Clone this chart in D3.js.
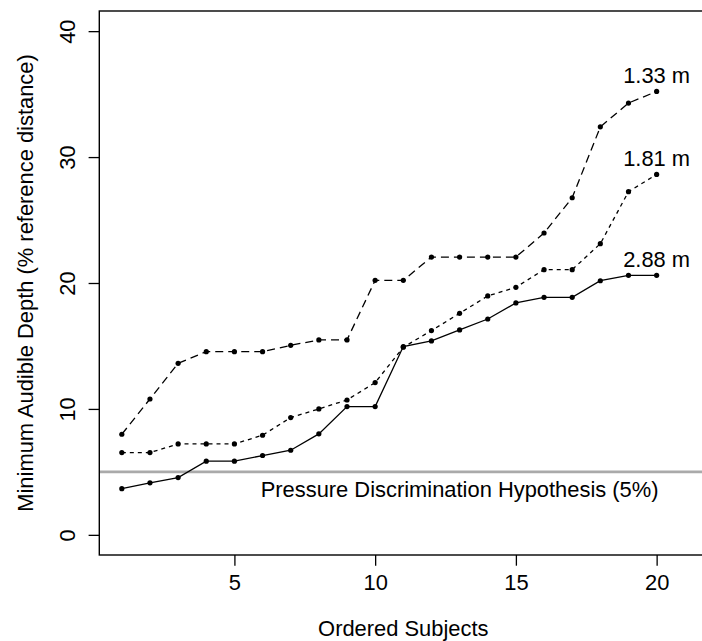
<!DOCTYPE html>
<html>
<head>
<meta charset="utf-8">
<script src="https://cdn.jsdelivr.net/npm/d3@7"></script>
<style>
  html, body { margin: 0; padding: 0; background: #fff; }
  svg { display: block; }
  text { font-family: "Liberation Sans", Arial, Helvetica, sans-serif; fill: #000; }
</style>
</head>
<body>
<svg id="chart" width="702" height="641"></svg>
<script>
// ---- data ----
const subjects = d3.range(1, 21);
const depth133 = [7.99, 10.79, 13.62, 14.55, 14.55, 14.55, 15.05, 15.48, 15.48, 20.21,
                  20.21, 22.06, 22.06, 22.06, 22.06, 23.97, 26.77, 32.4, 34.29, 35.21];
const depth181 = [6.53, 6.53, 7.22, 7.22, 7.22, 7.91, 9.31, 10.0, 10.71, 12.09,
                  14.9, 16.22, 17.59, 18.97, 19.66, 21.06, 21.06, 23.12, 27.25, 28.62];
const depth288 = [3.67, 4.13, 4.55, 5.85, 5.85, 6.30, 6.72, 8.02, 10.19, 10.19,
                  14.95, 15.40, 16.27, 17.14, 18.42, 18.86, 18.86, 20.18, 20.61, 20.61];
const seriesLabels = ["1.33 m", "1.81 m", "2.88 m"];
const xTicks = [5, 10, 15, 20];
const yTicks = [0, 10, 20, 30, 40];
const hypothesisValue = 5;
const hypothesisLabel = "Pressure Discrimination Hypothesis (5%)";
const xTitle = "Ordered Subjects";
const yTitle = "Minimum Audible Depth (% reference distance)";

// ---- layout ----
const svg = d3.select("#chart");
const FS = 21.9;
const x = d3.scaleLinear().domain([0.2, 21.8]).range([99.3, 707.3]);
const y = d3.scaleLinear().domain([-1.6, 41.6]).range([555, 11]);

// hypothesis line
svg.append("line")
  .attr("x1", x.range()[0]).attr("x2", x.range()[1])
  .attr("y1", y(hypothesisValue)).attr("y2", y(hypothesisValue))
  .attr("stroke", "#aaaaaa").attr("stroke-width", 2.6);

svg.append("text")
  .attr("x", x(13)).attr("y", y(3.6) + FS * 0.36)
  .attr("text-anchor", "middle").attr("font-size", FS)
  .text(hypothesisLabel);

// series
const series = [
  { vals: depth133, dash: "8,5", label: seriesLabels[0] },
  { vals: depth181, dash: "4,4", label: seriesLabels[1] },
  { vals: depth288, dash: null, label: seriesLabels[2] }
];
const line = d3.line().x((d, i) => x(subjects[i])).y(d => y(d));

series.forEach(s => {
  const p = svg.append("path")
    .attr("d", line(s.vals))
    .attr("fill", "none").attr("stroke", "#000").attr("stroke-width", 1.3);
  if (s.dash) p.attr("stroke-dasharray", s.dash);
  svg.append("g").selectAll("circle").data(s.vals).join("circle")
    .attr("cx", (d, i) => x(subjects[i])).attr("cy", d => y(d))
    .attr("r", 2.6).attr("fill", "#000");
  const last = s.vals[s.vals.length - 1];
  svg.append("text")
    .attr("x", x(subjects[subjects.length - 1]))
    .attr("y", y(last + 1.3) + FS * 0.36)
    .attr("text-anchor", "middle").attr("font-size", FS)
    .text(s.label);
});

// box
svg.append("rect")
  .attr("x", x.range()[0]).attr("y", y.range()[1])
  .attr("width", x.range()[1] - x.range()[0])
  .attr("height", y.range()[0] - y.range()[1])
  .attr("fill", "none").attr("stroke", "#000").attr("stroke-width", 1.4);

// x axis
const xAxis = d3.axisBottom(x).tickValues(xTicks).tickSize(10.7).tickPadding(9).tickFormat(d3.format("d"));
const gx = svg.append("g").attr("transform", `translate(0,${y.range()[0]})`).call(xAxis);
gx.select(".domain").remove();
gx.selectAll(".tick line").attr("stroke", "#000").attr("stroke-width", 1.3);
gx.selectAll(".tick text").attr("font-size", FS).attr("font-family", "Liberation Sans, Arial, sans-serif").attr("fill", "#000");

// y axis
const gy = svg.append("g").attr("transform", `translate(${x.range()[0]},0)`);
gy.call(d3.axisLeft(y).tickValues(yTicks).tickSize(10.7).tickFormat(d3.format("d")));
gy.select(".domain").remove();
gy.selectAll(".tick line").attr("stroke", "#000").attr("stroke-width", 1.3);
gy.selectAll(".tick text")
  .attr("font-size", FS).attr("font-family", "Liberation Sans, Arial, sans-serif").attr("fill", "#000")
  .attr("x", null).attr("dy", null)
  .attr("text-anchor", "middle")
  .attr("transform", "translate(-24.5,0) rotate(-90)");

// titles
svg.append("text")
  .attr("x", (x.range()[0] + x.range()[1]) / 2).attr("y", 636)
  .attr("text-anchor", "middle").attr("font-size", FS)
  .text(xTitle);

svg.append("text")
  .attr("transform", `translate(32.5,${(y.range()[0] + y.range()[1]) / 2}) rotate(-90)`)
  .attr("text-anchor", "middle").attr("font-size", FS)
  .text(yTitle);
</script>
</body>
</html>
